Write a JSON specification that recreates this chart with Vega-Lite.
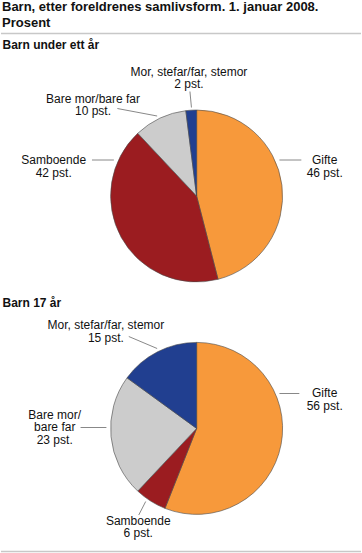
{
  "$schema": "https://vega.github.io/schema/vega-lite/v6.json",
  "width": 362,
  "height": 553,
  "autosize": {"type": "fit", "contains": "padding"},
  "padding": 0,
  "background": "white",
  "config": {"view": {"stroke": null}, "font": "Liberation Sans"},
  "datasets": {
    "slices": [
      {"panel": "Barn under ett år", "kategori": "Gifte", "prosent": 46, "rekkefolge": 1, "x": 196.7, "y": 196},
      {"panel": "Barn under ett år", "kategori": "Samboende", "prosent": 42, "rekkefolge": 2, "x": 196.7, "y": 196},
      {"panel": "Barn under ett år", "kategori": "Bare mor/bare far", "prosent": 10, "rekkefolge": 3, "x": 196.7, "y": 196},
      {"panel": "Barn under ett år", "kategori": "Mor, stefar/far, stemor", "prosent": 2, "rekkefolge": 4, "x": 196.7, "y": 196},
      {"panel": "Barn 17 år", "kategori": "Gifte", "prosent": 56, "rekkefolge": 1, "x": 196.7, "y": 428.4},
      {"panel": "Barn 17 år", "kategori": "Samboende", "prosent": 6, "rekkefolge": 2, "x": 196.7, "y": 428.4},
      {"panel": "Barn 17 år", "kategori": "Bare mor/bare far", "prosent": 23, "rekkefolge": 3, "x": 196.7, "y": 428.4},
      {"panel": "Barn 17 år", "kategori": "Mor, stefar/far, stemor", "prosent": 15, "rekkefolge": 4, "x": 196.7, "y": 428.4}
    ],
    "labels": [
      {"tekst": "Mor, stefar/far, stemor\n2 pst.", "x": 189, "y": 75.5},
      {"tekst": "Bare mor/bare far\n10 pst.", "x": 92.5, "y": 102.5},
      {"tekst": "Samboende\n42 pst.", "x": 53, "y": 164},
      {"tekst": "Gifte\n46 pst.", "x": 325.5, "y": 164},
      {"tekst": "Mor, stefar/far, stemor\n15 pst.", "x": 105.5, "y": 329},
      {"tekst": "Bare mor/\nbare far\n23 pst.", "x": 54, "y": 418.8},
      {"tekst": "Gifte\n56 pst.", "x": 325.5, "y": 397},
      {"tekst": "Samboende\n6 pst.", "x": 138, "y": 524.5}
    ],
    "leaders": [
      {"x": 190, "y": 91.5, "x2": 191.5, "y2": 107.5},
      {"x": 117, "y": 108.5, "x2": 157, "y2": 116},
      {"x": 91.5, "y": 160, "x2": 113.5, "y2": 160},
      {"x": 280, "y": 160, "x2": 302, "y2": 160},
      {"x": 128.5, "y": 336.5, "x2": 157, "y2": 348.5},
      {"x": 80, "y": 427.5, "x2": 106, "y2": 427.5},
      {"x": 280, "y": 393.5, "x2": 300, "y2": 393.5},
      {"x": 145.5, "y": 501.5, "x2": 138.5, "y2": 515}
    ],
    "separators": [
      {"x": 0, "x2": 362, "y": 33.5},
      {"x": 0, "x2": 362, "y": 551.5}
    ],
    "maintitle": [
      {"tekst": "Barn, etter foreldrenes samlivsform. 1. januar 2008.\nProsent", "x": 1, "y": 10.5}
    ],
    "paneltitles": [
      {"tekst": "Barn under ett år", "x": 1.5, "y": 48.5},
      {"tekst": "Barn 17 år", "x": 1.5, "y": 306.5}
    ]
  },
  "layer": [
    {
      "data": {"name": "separators"},
      "mark": {"type": "rule", "stroke": "#c8c8c8", "strokeWidth": 1.5},
      "encoding": {
        "x": {"field": "x", "type": "quantitative", "scale": {"domain": [0, 362], "nice": false, "zero": false}, "axis": null},
        "x2": {"field": "x2"},
        "y": {"field": "y", "type": "quantitative", "scale": {"domain": [0, 553], "nice": false, "zero": false, "reverse": true}, "axis": null}
      }
    },
    {
      "data": {"name": "slices"},
      "transform": [
        {"stack": "prosent", "groupby": ["panel"], "sort": [{"field": "rekkefolge", "order": "ascending"}], "as": ["t0", "t1"]}
      ],
      "mark": {"type": "arc", "radius": 86, "stroke": "#4a4a4a", "strokeWidth": 0.6},
      "encoding": {
        "x": {"field": "x", "type": "quantitative", "scale": {"domain": [0, 362], "nice": false, "zero": false}, "axis": null},
        "y": {"field": "y", "type": "quantitative", "scale": {"domain": [0, 553], "nice": false, "zero": false, "reverse": true}, "axis": null},
        "theta": {"field": "t0", "type": "quantitative", "stack": null, "scale": {"domain": [0, 100], "range": [0, 6.283185307179586]}},
        "theta2": {"field": "t1"},
        "color": {
          "field": "kategori",
          "type": "nominal",
          "scale": {
            "domain": ["Gifte", "Samboende", "Bare mor/bare far", "Mor, stefar/far, stemor"],
            "range": ["#f7993b", "#9b1c20", "#cccccc", "#213f90"]
          },
          "legend": null
        }
      }
    },
    {
      "data": {"name": "leaders"},
      "mark": {"type": "rule", "stroke": "#6a6a6a", "strokeWidth": 0.8},
      "encoding": {
        "x": {"field": "x", "type": "quantitative", "scale": {"domain": [0, 362], "nice": false, "zero": false}, "axis": null},
        "x2": {"field": "x2"},
        "y": {"field": "y", "type": "quantitative", "scale": {"domain": [0, 553], "nice": false, "zero": false, "reverse": true}, "axis": null},
        "y2": {"field": "y2"}
      }
    },
    {
      "data": {"name": "labels"},
      "mark": {"type": "text", "align": "center", "baseline": "alphabetic", "fontSize": 12, "lineHeight": 12.6, "lineBreak": "\n", "color": "#111111", "font": "Liberation Sans"},
      "encoding": {
        "x": {"field": "x", "type": "quantitative", "scale": {"domain": [0, 362], "nice": false, "zero": false}, "axis": null},
        "y": {"field": "y", "type": "quantitative", "scale": {"domain": [0, 553], "nice": false, "zero": false, "reverse": true}, "axis": null},
        "text": {"field": "tekst", "type": "nominal"}
      }
    },
    {
      "data": {"name": "maintitle"},
      "mark": {"type": "text", "align": "left", "baseline": "alphabetic", "fontSize": 13, "fontWeight": "bold", "lineHeight": 16, "lineBreak": "\n", "color": "#111111", "font": "Liberation Sans"},
      "encoding": {
        "x": {"field": "x", "type": "quantitative", "scale": {"domain": [0, 362], "nice": false, "zero": false}, "axis": null},
        "y": {"field": "y", "type": "quantitative", "scale": {"domain": [0, 553], "nice": false, "zero": false, "reverse": true}, "axis": null},
        "text": {"field": "tekst", "type": "nominal"}
      }
    },
    {
      "data": {"name": "paneltitles"},
      "mark": {"type": "text", "align": "left", "baseline": "alphabetic", "fontSize": 12, "fontWeight": "bold", "color": "#111111", "font": "Liberation Sans"},
      "encoding": {
        "x": {"field": "x", "type": "quantitative", "scale": {"domain": [0, 362], "nice": false, "zero": false}, "axis": null},
        "y": {"field": "y", "type": "quantitative", "scale": {"domain": [0, 553], "nice": false, "zero": false, "reverse": true}, "axis": null},
        "text": {"field": "tekst", "type": "nominal"}
      }
    }
  ]
}
